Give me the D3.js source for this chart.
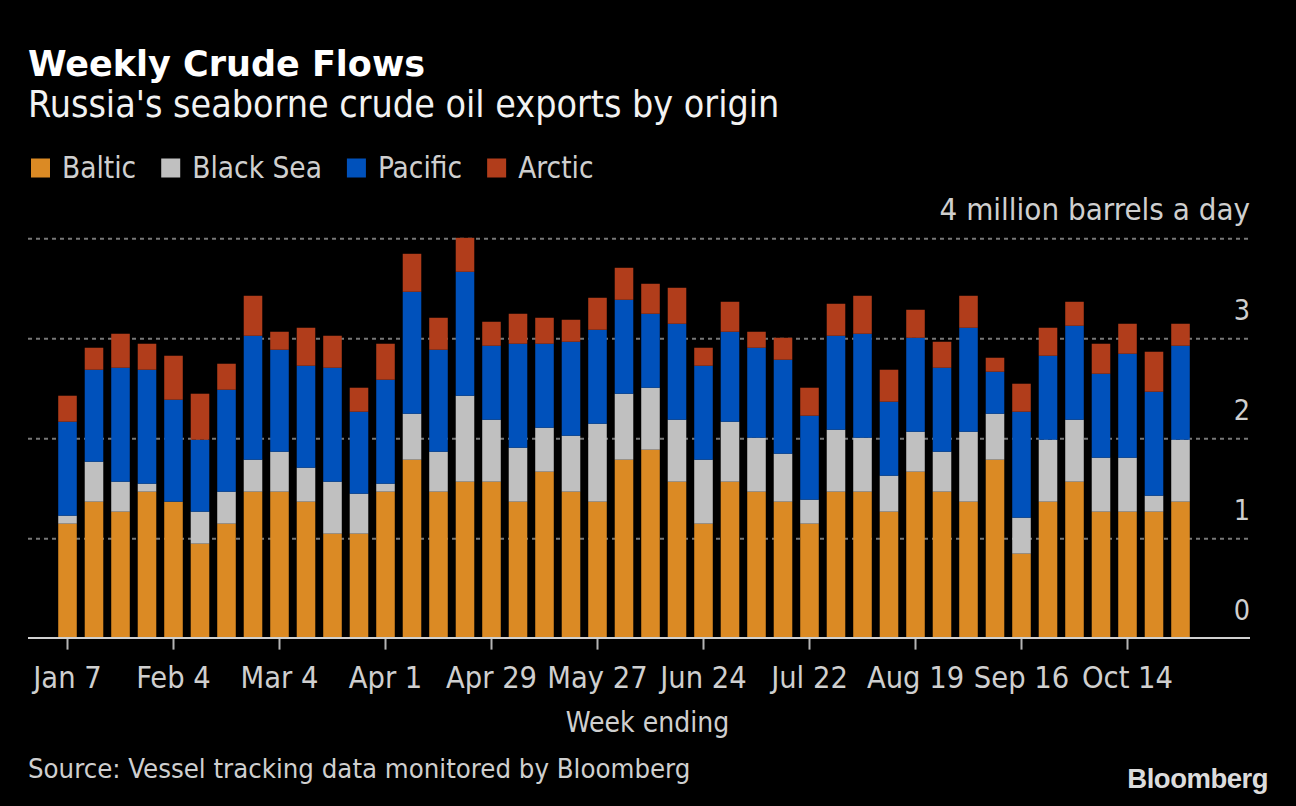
<!DOCTYPE html>
<html>
<head>
<meta charset="utf-8">
<script src="https://cdn.jsdelivr.net/npm/d3@7"></script>
<style>
    html, body { margin: 0; padding: 0; background: #000; }
    svg { display: block; }
    .cond { font-family: "DejaVu Sans Condensed", "DejaVu Sans", sans-serif; font-stretch: condensed; }
</style>
</head>
<body>
<svg id="chart" width="1296" height="806"></svg>
<script>
// week ending labels
var weeks = [
    "Jan 7", "Jan 14", "Jan 21", "Jan 28",
    "Feb 4", "Feb 11", "Feb 18", "Feb 25",
    "Mar 4", "Mar 11", "Mar 18", "Mar 25",
    "Apr 1", "Apr 8", "Apr 15", "Apr 22", "Apr 29",
    "May 6", "May 13", "May 20", "May 27",
    "Jun 3", "Jun 10", "Jun 17", "Jun 24",
    "Jul 1", "Jul 8", "Jul 15", "Jul 22", "Jul 29",
    "Aug 5", "Aug 12", "Aug 19", "Aug 26",
    "Sep 2", "Sep 9", "Sep 16", "Sep 23", "Sep 30",
    "Oct 7", "Oct 14", "Oct 21", "Oct 28"
];

// million barrels a day
var baltic = [1.15, 1.37, 1.27, 1.47, 1.37, 0.95, 1.15, 1.47, 1.47, 1.37, 1.05, 1.05, 1.47, 1.79, 1.47, 1.57, 1.57, 1.37, 1.67, 1.47, 1.37, 1.79, 1.89, 1.57, 1.15, 1.57, 1.47, 1.37, 1.15, 1.47, 1.47, 1.27, 1.67, 1.47, 1.37, 1.79, 0.85, 1.37, 1.57, 1.27, 1.27, 1.27, 1.37];
var blackSea = [0.08, 0.40, 0.30, 0.08, 0.00, 0.32, 0.32, 0.32, 0.40, 0.34, 0.52, 0.40, 0.08, 0.46, 0.40, 0.86, 0.62, 0.54, 0.44, 0.56, 0.78, 0.66, 0.62, 0.62, 0.64, 0.60, 0.54, 0.48, 0.24, 0.62, 0.54, 0.36, 0.40, 0.40, 0.70, 0.46, 0.36, 0.62, 0.62, 0.54, 0.54, 0.16, 0.62];
var pacific = [0.94, 0.92, 1.14, 1.14, 1.02, 0.72, 1.02, 1.24, 1.02, 1.02, 1.14, 0.82, 1.04, 1.22, 1.02, 1.24, 0.74, 1.04, 0.84, 0.94, 0.94, 0.94, 0.74, 0.96, 0.94, 0.90, 0.90, 0.94, 0.84, 0.94, 1.04, 0.74, 0.94, 0.84, 1.04, 0.42, 1.06, 0.84, 0.94, 0.84, 1.04, 1.04, 0.94];
var arctic = [0.26, 0.22, 0.34, 0.26, 0.44, 0.46, 0.26, 0.40, 0.18, 0.38, 0.32, 0.24, 0.36, 0.38, 0.32, 0.34, 0.24, 0.30, 0.26, 0.22, 0.32, 0.32, 0.30, 0.36, 0.18, 0.30, 0.16, 0.22, 0.28, 0.32, 0.38, 0.32, 0.28, 0.26, 0.32, 0.14, 0.28, 0.28, 0.24, 0.30, 0.30, 0.40, 0.22];

var series = ["Baltic", "Black Sea", "Pacific", "Arctic"];
var colors = ["#db8a24", "#c0c0c0", "#0051bb", "#b13d1b"];
var tickWeeks = ["Jan 7", "Feb 4", "Mar 4", "Apr 1", "Apr 29", "May 27", "Jun 24", "Jul 22", "Aug 19", "Sep 16", "Oct 14"];
var yTicks = [0, 1, 2, 3, 4];

var svg = d3.select("#chart");

// build rows for the stack
var rows = weeks.map((w, i) => ({
    week: w,
    "Baltic": baltic[i],
    "Black Sea": blackSea[i],
    "Pacific": pacific[i],
    "Arctic": arctic[i]
}));
var stacked = d3.stack().keys(series)(rows);

var x = d3.scaleBand()
    .domain(weeks)
    .range([54.25, 1193.75])
    .paddingInner(0.3)
    .paddingOuter(0.15);

var y = d3.scaleLinear()
    .domain([0, 4])
    .range([638.6, 238.8]);

var color = d3.scaleOrdinal().domain(series).range(colors);

// header
svg.append("text")
    .attr("x", 28)
    .attr("y", 76)
    .attr("fill", "#fff")
    .style("font-family", "'DejaVu Sans', sans-serif")
    .style("font-weight", "bold")
    .style("font-size", "35px")
    .text("Weekly Crude Flows");

svg.append("text")
    .attr("class", "cond")
    .attr("x", 28)
    .attr("y", 117)
    .attr("fill", "#f2f2f2")
    .style("font-size", "37.3px")
    .text("Russia's seaborne crude oil exports by origin");

// legend, laid out left to right
var legendX = 31;
series.forEach((s, i) => {
    svg.append("rect")
        .attr("x", legendX)
        .attr("y", 158.5)
        .attr("width", 19)
        .attr("height", 19)
        .attr("fill", colors[i]);
    var t = svg.append("text")
        .attr("class", "cond")
        .attr("x", legendX + 31)
        .attr("y", 177.5)
        .attr("fill", "#cfcfcf")
        .style("font-size", "29.5px")
        .text(s);
    legendX += 31 + t.node().getComputedTextLength() + 25;
});

// dotted gridlines
svg.append("g")
    .selectAll("line")
    .data(yTicks.filter(d => d > 0))
    .join("line")
    .attr("x1", 28)
    .attr("x2", 1250)
    .attr("y1", d => y(d))
    .attr("y2", d => y(d))
    .attr("stroke", "#777")
    .attr("stroke-width", 2)
    .attr("stroke-dasharray", "4,4");

// y labels sit above their gridline on the right
svg.append("g")
    .selectAll("text")
    .data(yTicks)
    .join("text")
    .attr("class", "cond")
    .attr("x", 1250)
    .attr("y", d => y(d) - 19)
    .attr("text-anchor", "end")
    .attr("fill", "#cfcfcf")
    .style("font-size", d => d === 4 ? "31px" : "28.5px")
    .text(d => d === 4 ? "4 million barrels a day" : d);

// stacked bars
svg.append("g")
    .selectAll("g")
    .data(stacked)
    .join("g")
    .attr("fill", d => color(d.key))
    .selectAll("rect")
    .data(d => d)
    .join("rect")
    .attr("x", d => x(d.data.week))
    .attr("width", x.bandwidth())
    .attr("y", d => y(d[1]))
    .attr("height", d => y(d[0]) - y(d[1]));

// x axis
var xAxis = svg.append("g")
    .attr("transform", "translate(0," + y(0) + ")")
    .call(d3.axisBottom(x).tickValues(tickWeeks).tickSize(11).tickPadding(17));

xAxis.select(".domain").remove();
xAxis.selectAll(".tick line")
    .attr("stroke", "#b5b5b5")
    .attr("stroke-width", 2);
xAxis.selectAll(".tick text")
    .attr("class", "cond")
    .attr("fill", "#cfcfcf")
    .style("font-size", "30.5px")
    .attr("dy", null)
    .attr("y", 49.5);

svg.append("line")
    .attr("x1", 28)
    .attr("x2", 1250)
    .attr("y1", y(0) - 0.5)
    .attr("y2", y(0) - 0.5)
    .attr("stroke", "#d0d0d0")
    .attr("stroke-width", 2);

svg.append("text")
    .attr("class", "cond")
    .attr("x", 647.5)
    .attr("y", 731.5)
    .attr("text-anchor", "middle")
    .attr("fill", "#cfcfcf")
    .style("font-size", "28px")
    .text("Week ending");

// footer
svg.append("text")
    .attr("class", "cond")
    .attr("x", 28)
    .attr("y", 777.5)
    .attr("fill", "#cfcfcf")
    .style("font-size", "27.3px")
    .text("Source: Vessel tracking data monitored by Bloomberg");

svg.append("text")
    .attr("x", 1268)
    .attr("y", 788)
    .attr("text-anchor", "end")
    .attr("fill", "#dcdcdc")
    .style("font-family", "'Liberation Sans', Arial, sans-serif")
    .style("font-weight", "bold")
    .style("font-size", "27.5px")
    .style("letter-spacing", "-0.5px")
    .text("Bloomberg");
</script>
</body>
</html>
